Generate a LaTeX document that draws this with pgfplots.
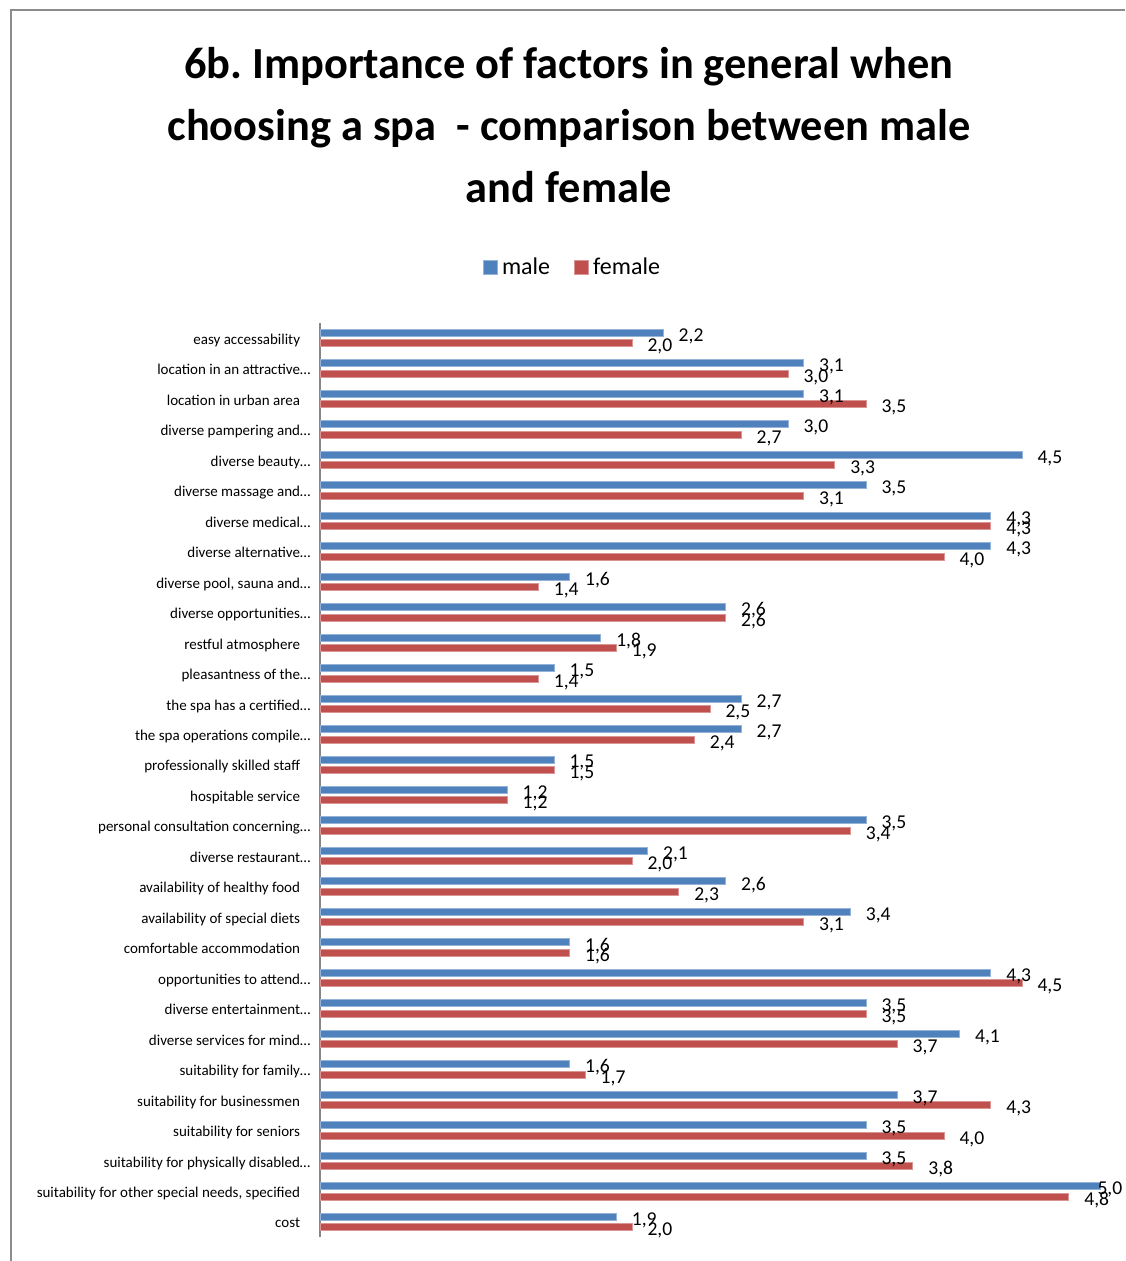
\documentclass[border=0pt]{standalone}
\usepackage{pgfplots}
\pgfplotsset{compat=1.18}
\usepackage{pgfplotstable}
\usepackage{fontspec}
\setmainfont{Carlito}
\frenchspacing

\definecolor{male}{HTML}{4F81BD}
\definecolor{female}{HTML}{C0504D}
\definecolor{framegray}{HTML}{8C8C8C}
\definecolor{axisgray}{HTML}{868686}

% mean importance scores, first row = top of the chart (pos 29)
\pgfplotstableread{
pos male female
29 2.2 2.0
28 3.1 3.0
27 3.1 3.5
26 3.0 2.7
25 4.5 3.3
24 3.5 3.1
23 4.3 4.3
22 4.3 4.0
21 1.6 1.4
20 2.6 2.6
19 1.8 1.9
18 1.5 1.4
17 2.7 2.5
16 2.7 2.4
15 1.5 1.5
14 1.2 1.2
13 3.5 3.4
12 2.1 2.0
11 2.6 2.3
10 3.4 3.1
9 1.6 1.6
8 4.3 4.5
7 3.5 3.5
6 4.1 3.7
5 1.6 1.7
4 3.7 4.3
3 3.5 4.0
2 3.5 3.8
1 5.0 4.8
0 1.9 2.0
}\spadata

\begin{document}
\begin{tikzpicture}
% frame and title, in units of 0.5pt measured downward from the top left
\begin{scope}[x=0.5pt,y=-0.5pt]
\useasboundingbox (0,0) rectangle (1125,1261);
\draw[framegray, line width=1pt] (10.5,1261) -- (10.5,10.5) -- (1125,10.5);
\begin{scope}[every node/.style={anchor=base, inner sep=0pt, font=\fontsize{22.2}{26}\selectfont\bfseries}]
\node at (569,79) {6b. Importance of factors in general when};
\node at (569,141) {choosing a spa\ \ - comparison between male};
\node at (569,203) {and female};
\end{scope}
\end{scope}
\begin{axis}[
  at={(160pt,-161.5pt)}, anchor=north west,
  scale only axis, width=390pt, height=457pt,
  xbar, bar width=3.5pt,
  xmin=0, xmax=5, ymin=-0.5, ymax=29.5,
  axis x line=none, axis y line*=left,
  y axis line style={draw=axisgray, line width=0.8pt},
  xtick=\empty,
  ytick={0,...,29}, ytick style={draw=none},
  yticklabels={
    {cost},
    {suitability for other special needs, specified},
    {suitability for physically disabled\rlap{…}},
    {suitability for seniors},
    {suitability for businessmen},
    {suitability for family\rlap{…}},
    {diverse services for mind\rlap{…}},
    {diverse entertainment\rlap{…}},
    {opportunities to attend\rlap{…}},
    {comfortable accommodation},
    {availability of special diets},
    {availability of healthy food},
    {diverse restaurant\rlap{…}},
    {personal consultation concerning\rlap{…}},
    {hospitable service},
    {professionally skilled staff},
    {the spa operations compile\rlap{…}},
    {the spa has a certified\rlap{…}},
    {pleasantness of the\rlap{…}},
    {restful atmosphere},
    {diverse opportunities\rlap{…}},
    {diverse pool, sauna and\rlap{…}},
    {diverse alternative\rlap{…}},
    {diverse medical\rlap{…}},
    {diverse massage and\rlap{…}},
    {diverse beauty\rlap{…}},
    {diverse pampering and\rlap{…}},
    {location in urban area},
    {location in an attractive\rlap{…}},
    {easy accessability}},
  yticklabel style={font=\fontsize{7.5}{9}\selectfont, anchor=base east, inner sep=0pt, xshift=-5.5pt, yshift=-3.1pt},
  point meta=x,
  nodes near coords={\pgfmathprintnumber[fixed, fixed zerofill, precision=1, use comma, assume math mode=true]{\pgfplotspointmeta}},
  nodes near coords style={font=\fontsize{9.8}{11.5}\selectfont, anchor=west, inner sep=0pt, xshift=7.5pt, yshift=-1.7pt, text=black},
  clip=false,
  legend columns=2,
  legend style={at={(axis description cs:0.325,1.0602)}, anchor=center, draw=none, fill=none,
    font=\fontsize{12}{14}\selectfont, /tikz/every even column/.append style={column sep=10pt}},
  legend image code/.code={\fill[#1] (0pt,-3.5pt) rectangle (7pt,3.5pt);},
]
\addplot[xbar, bar shift=2.625pt, fill=male, draw=male!60!white, line width=0.5pt,
  coordinate style/.condition={x>4.9}{xshift=-9pt}]
  table[x=male, y=pos] {\spadata};
\addlegendentry{male}
\addplot[xbar, bar shift=-2.625pt, fill=female, draw=female!60!white, line width=0.5pt]
  table[x=female, y=pos] {\spadata};
\addlegendentry{female}
\end{axis}
\end{tikzpicture}
\end{document}
